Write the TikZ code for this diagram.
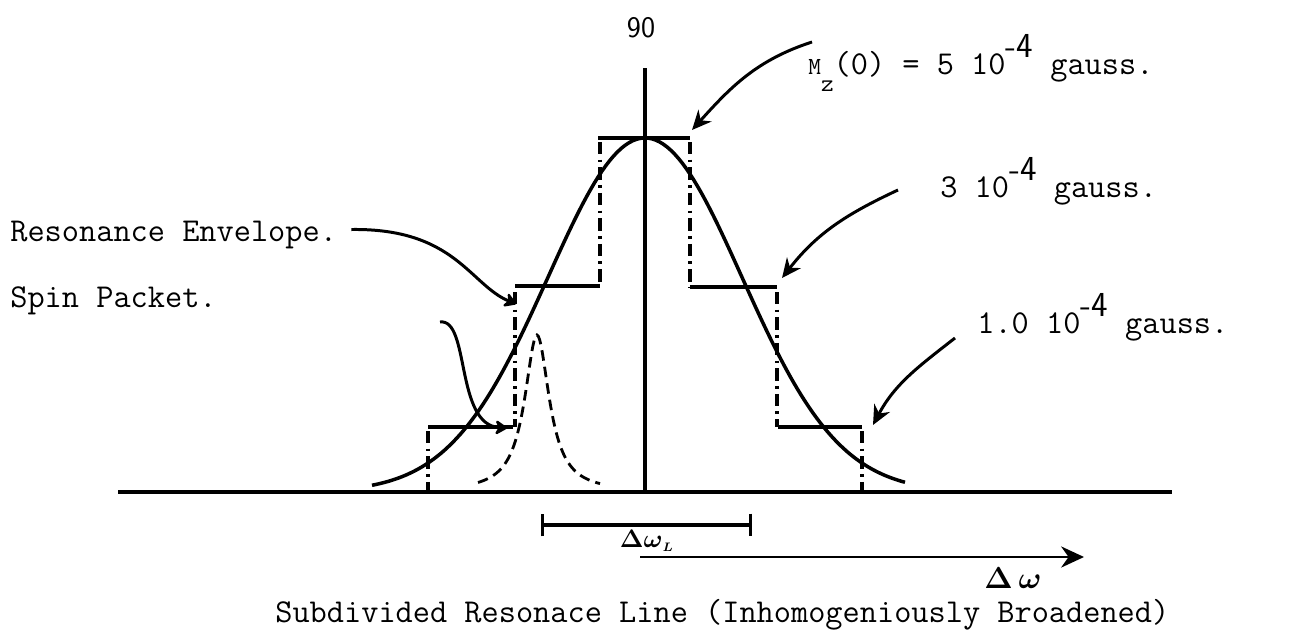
\documentclass[tikz,border=0pt]{standalone}
\usepackage{fontspec}
\usepackage{amsmath}
\usetikzlibrary{arrows.meta}

\newcommand{\minusfour}{\raisebox{0.5em}{\sffamily\fontsize{20}{20}\selectfont -4}}

\begin{document}
\begin{tikzpicture}[x=0.02cm, y=-0.02cm]
  % styles
  \tikzset{
    lbl/.style={font=\ttfamily\fontsize{19}{22}\selectfont, inner sep=0pt, anchor=base west},
    axis/.style={draw=black, line width=2.6pt},
    env/.style={draw=black, line width=2pt},
    lvl/.style={draw=black, line width=1.9pt},
    drop/.style={draw=black, line width=1.9pt, dash pattern=on 7pt off 3pt on 1.5pt off 3pt},
    pkt/.style={draw=black, line width=1.6pt, dash pattern=on 6pt off 3.5pt},
    ptr/.style={draw=black, line width=1.7pt, -{Stealth[length=11pt, width=10pt]}},
    blob/.style={draw=black, line width=1.7pt, -{Stealth[length=8pt, width=10pt, round]}}
  }
  \useasboundingbox (0,0) rectangle (1299,632);

  % axes
  \coordinate (L) at (118,492);   % left end of axis
  \coordinate (R) at (1172,492);  % right end of axis
  \coordinate (O) at (645,492);   % line centre
  \coordinate (T) at (645,68);    % top of centre line
  \draw[axis] (L) -- (R);
  \draw[axis] (O) -- (T);
  \node[font=\sffamily\fontsize{17}{17}\selectfont] (ninety) at (641,28) {90};

  % envelope (gaussian) and one spin packet (lorentzian)
  \draw[env] plot[domain=372:905, samples=140]
    (\x, {492-354*exp(-0.5*((\x-645)/97)^2)});
  \draw[pkt] plot[domain=478:600, samples=90]
    (\x, {492-157/(1+((\x-537)/15)^2)});

  % levels
  \coordinate (u1) at (598,138);  \coordinate (u2) at (690,138);
  \coordinate (m1) at (515,286);  \coordinate (m2) at (600,286);
  \coordinate (m3) at (690,287);  \coordinate (m4) at (777,287);
  \coordinate (b1) at (428,427);  \coordinate (b2) at (513,427);
  \coordinate (b3) at (778,427);  \coordinate (b4) at (862,427);
  \draw[lvl] (u1) -- (u2);
  \draw[lvl] (m1) -- (m2);
  \draw[lvl] (m3) -- (m4);
  \draw[lvl] (b1) -- (b2);
  \draw[lvl] (b3) -- (b4);
  \draw[drop] (600,142) -- (m2);
  \draw[drop] (690,142) -- (m3);
  \draw[drop] (515,292) -- (515,427);
  \draw[drop] (777,292) -- (777,427);
  \draw[drop] (428,431) -- (428,492);
  \draw[drop] (862,431) -- (862,492);

  % labels, right
  \node[lbl] (mz) at (808,74)
    {{\fontsize{14}{14}\selectfont M\raisebox{-0.7em}{z}}(0) = 5 10\minusfour{} gauss.};
  \node[lbl] (three) at (940,197) {3 10\minusfour{} gauss.};
  \node[lbl] (one) at (977,333) {1.0 10\minusfour{} gauss.};

  % labels, left
  \node[lbl] (env) at (10,241) {Resonance Envelope.};
  \node[lbl] (spin) at (10,307) {Spin Packet.};

  % pointers
  \coordinate (p1) at (812,42);  \coordinate (q1) at (692,130);
  \coordinate (p2) at (898,190); \coordinate (q2) at (782,278);
  \coordinate (p3) at (955,338); \coordinate (q3) at (873,425);
  \coordinate (q4) at (516,304);
  \coordinate (p5) at (440,322); \coordinate (q5) at (507,428);
  \draw[ptr] (p1) to[out=198, in=48] (q1);
  \draw[ptr] (p2) to[out=205, in=52] (q2);
  \draw[ptr] (p3) to[out=218, in=62] (q3);
  \draw[blob] (env.east) ++(14,-5) .. controls (455,228) and (470,285) .. (q4);
  \draw[blob] (p5) .. controls (470,318) and (455,425) .. (q5);

  % widths
  \coordinate (wl) at (541,525); \coordinate (wr) at (752,525);
  \draw[line width=1.8pt, {Bar[width=13pt]}-{Bar[width=13pt]}] (wl) -- (wr);
  \node[font=\fontsize{15}{15}\selectfont] (dwl) at (647,541)
    {$\boldsymbol{\Delta\omega}_{\scriptscriptstyle\boldsymbol{L}}$};
  \coordinate (a0) at (640,557); \coordinate (a1) at (1084,557);
  \draw[line width=1.6pt, -{Stealth[length=13pt, width=12pt]}] (a0) -- (a1);
  \node[font=\fontsize{18}{18}\selectfont, inner sep=0pt] (dw) at (1013,578) {$\boldsymbol{\Delta\,\omega}$};

  % caption
  \node[lbl] (cap) at (275,622) {Subdivided Resonace Line (Inhomogeniously Broadened)};
\end{tikzpicture}
\end{document}
